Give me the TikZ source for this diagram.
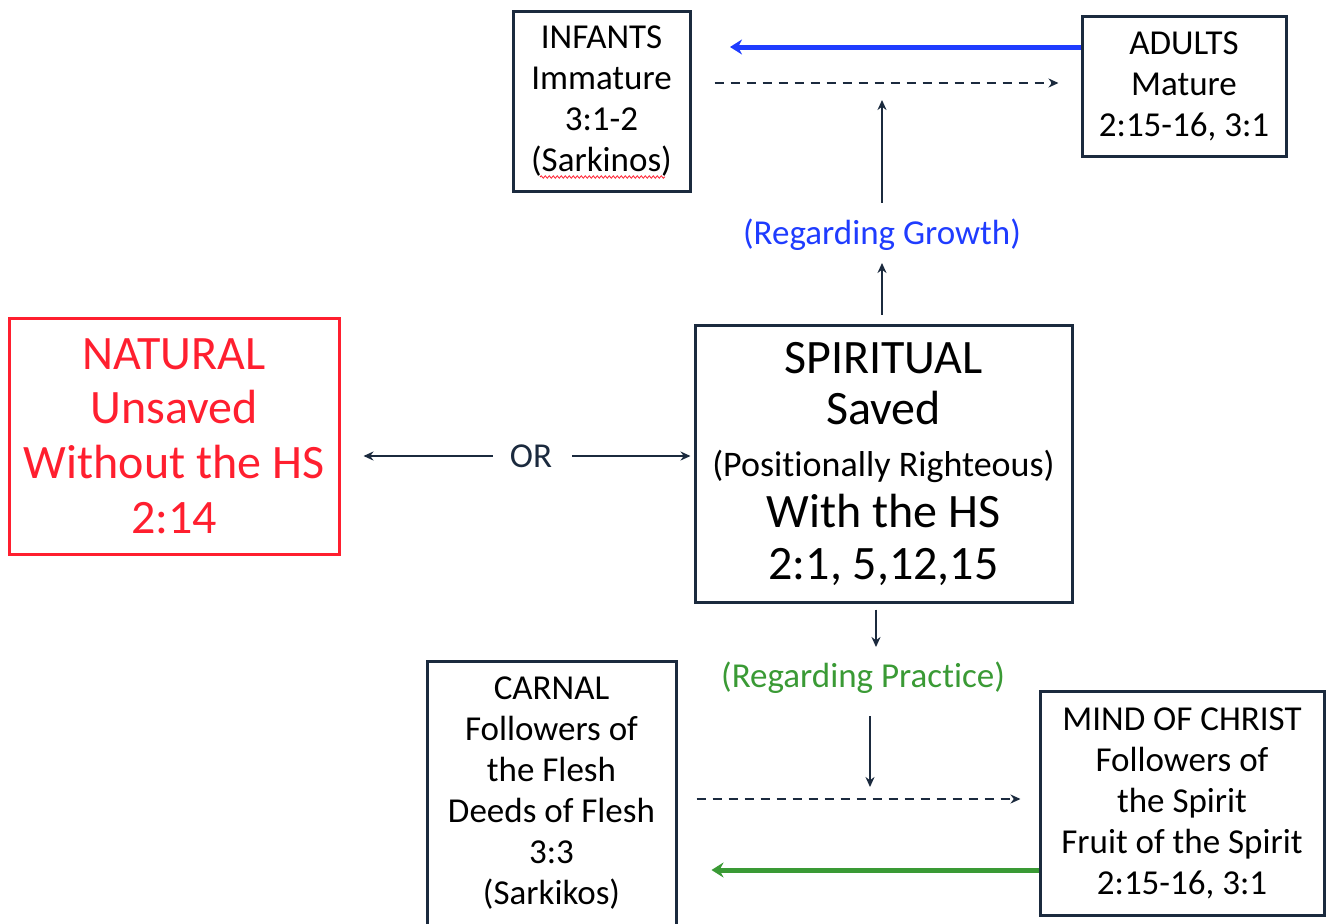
\documentclass[tikz,border=0pt]{standalone}
\usepackage{fontspec}
\setmainfont[Ligatures=NoCommon]{Carlito}
\usetikzlibrary{arrows.meta,decorations.pathmorphing}
\definecolor{navy}{HTML}{1B2A3E}
\definecolor{redC}{HTML}{FF1F2F}
\definecolor{blueC}{HTML}{1F3CFF}
\definecolor{greenC}{HTML}{3A9A35}
\tikzset{
  box/.style={draw=navy,line width=3pt,align=center,inner sep=0pt,
    font=\fontsize{35}{41}\selectfont},
  bigbox/.style={box,font=\fontsize{48}{51.5}\selectfont},
  lbl/.style={inner sep=0pt,font=\fontsize{35}{41}\selectfont},
  link/.style={->,navy,line width=2.5pt,>={Stealth[length=10pt,width=9pt]}},
  dashlink/.style={link,dash pattern=on 9pt off 7pt},
  fat/.style={->,line width=5pt,>={Stealth[length=12pt,width=15pt]}}
}
\begin{document}
\begin{tikzpicture}[x=1pt,y=-1pt]
  \useasboundingbox (0,0) rectangle (1326,924);
  % boxes
  \node[box,minimum width=177pt,minimum height=180pt] (infants) at (601.5,101)
    {INFANTS\\Immature\\3:1-2\\(Sarkinos)};
  \node[box,minimum width=204pt,minimum height=140pt] (adults) at (1184,86)
    {ADULTS\\Mature\\2:15-16, 3:1};
  \node[bigbox,minimum width=377pt,minimum height=277pt] (spiritual) at (883.5,463.5)
    {SPIRITUAL\\Saved\\{\fontsize{36}{41}\selectfont(Positionally Righteous)}\\With the HS\\2:1, 5,12,15};
  \node[box,draw=redC,text=redC,minimum width=330pt,minimum height=236pt,
    font=\fontsize{48}{54.7}\selectfont] (natural) at (174,436)
    {NATURAL\\Unsaved\\Without the HS\\2:14};
  \node[box,minimum width=249pt,minimum height=265pt] (carnal) at (551.5,793.5)
    {CARNAL\\Followers of\\the Flesh\\Deeds of Flesh\\3:3\\(Sarkikos)};
  \node[box,minimum width=284pt,minimum height=224pt] (mind) at (1182,803)
    {MIND OF CHRIST\\Followers of\\the Spirit\\Fruit of the Spirit\\2:15-16, 3:1};
  % labels
  \node[lbl,text=blueC] (growth) at (882,235) {(Regarding Growth)};
  \node[lbl,text=greenC] (practice) at (863,678) {(Regarding Practice)};
  \node[lbl,text=navy] (or) at (531,456) {OR};
  \coordinate (gtip) at (730,47);
  \coordinate (gup) at (882,100);
  \coordinate (pdown) at (870,787);
  % growth
  \draw[fat,blueC] (adults.west |- gtip) -- (gtip);
  \draw[dashlink,shorten <=23pt,shorten >=22pt] (infants.east |- 0,83) -- (adults.west |- 0,83);
  \draw[link,shorten <=9pt,shorten >=12pt] (spiritual.north -| growth) -- (growth.south);
  \draw[link,shorten <=16pt] (growth.north) -- (gup);
  \draw[redC,line width=0.8pt,decorate,decoration={snake,amplitude=1.2pt,segment length=4pt}]
    (540,177) -- (665,177);
  % or
  \draw[link,shorten <=17pt,shorten >=23pt] (or.west) -- (or.west -| natural.east);
  \draw[link,shorten <=20pt,shorten >=3pt] (or.east) -- (or.east -| spiritual.west);
  % practice
  \draw[link,shorten <=6pt,shorten >=15pt] ([xshift=-7.5pt]spiritual.south) -- ([xshift=13pt]practice.north);
  \draw[link,shorten <=22pt] ([xshift=7pt]practice.south) -- (pdown);
  \draw[dashlink,shorten <=19pt,shorten >=18pt] (carnal.east |- 0,799) -- (mind.west |- 0,799);
  \draw[fat,greenC,shorten >=34pt] (mind.west |- 0,870) -- (carnal.east |- 0,870);
\end{tikzpicture}
\end{document}
